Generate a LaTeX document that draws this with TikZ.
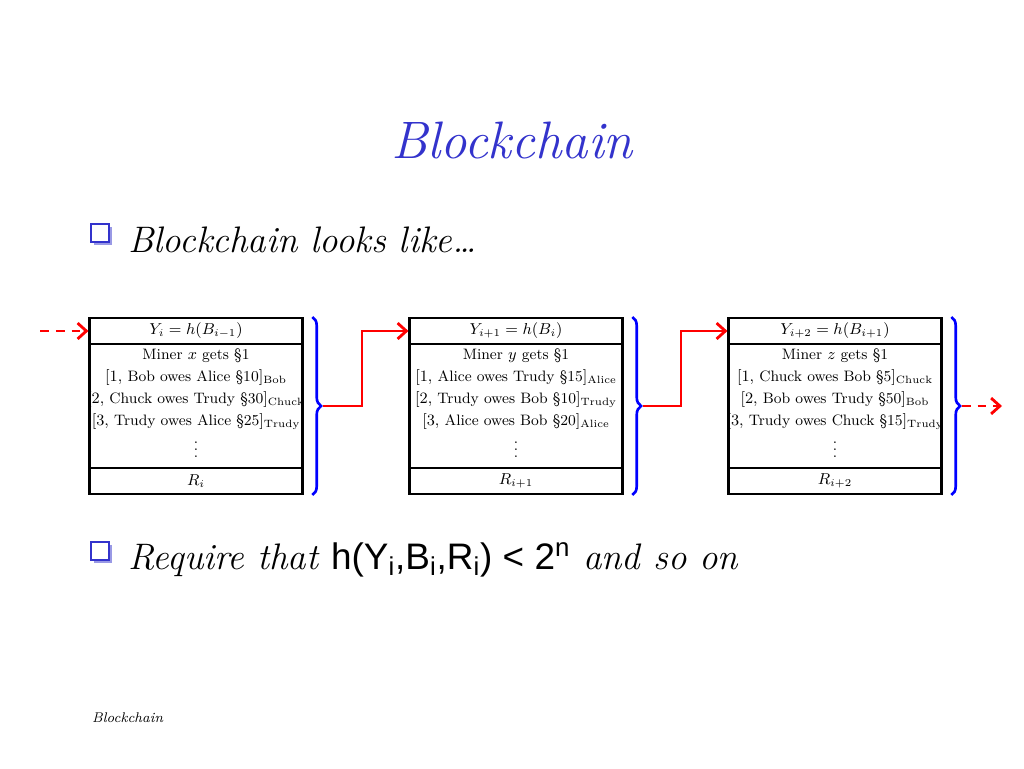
\documentclass[tikz,border=0pt]{standalone}
\usepackage{fontspec}
\newfontfamily\arialfont{Liberation Sans}
\usetikzlibrary{positioning,calc,shadows,decorations.pathreplacing,arrows.meta}
\definecolor{titleblue}{RGB}{51,51,204}
\tikzset{
  cell/.style={draw,line width=1.2pt,minimum width=4.26cm,inner sep=0pt,font=\small,align=center},
  rows/.style={anchor=north,inner sep=0pt,align=center,font=\fontsize{8.6}{12.6}\selectfont},
  brace/.style={draw=blue,line width=1.5pt,decorate,decoration={brace,amplitude=5pt}},
  link/.style={red,line width=1.6pt,-{Straight Barb[length=5pt,width=9pt]}},
  dlink/.style={link,dashed,dash pattern=on 5pt off 4pt},
  bullet/.style={draw=titleblue,fill=white,line width=0.8pt,minimum size=0.36cm,inner sep=0pt,
    drop shadow={shadow xshift=1.5pt,shadow yshift=-1.5pt,fill=titleblue}}
}
\begin{document}
\begin{tikzpicture}[x=0.02cm,y=-0.02cm]
\useasboundingbox (0,0) rectangle (1024,768);
% Title and bullets
\node (title) at (512,140) {\fontsize{30}{34}\selectfont\itshape\color{titleblue}Blockchain};
\node[bullet] (b1) at (100,233) {};
\node[anchor=west] (t1) at (122,240) {\fontsize{21}{24}\selectfont\itshape Blockchain looks like\dots};
\node[bullet] (b2) at (100,551) {};
\node[anchor=west] (t2) at (122,560) {\fontsize{21}{24}\selectfont\itshape Require that
  {\upshape\arialfont h(Y\textsubscript{i},B\textsubscript{i},R\textsubscript{i}) < 2\textsuperscript{n}} and so on};
% Blocks
\node[cell,minimum height=0.52cm] (h1) at (196,331) {$Y_i = h(B_{i-1})$};
\node[cell,minimum height=2.48cm,anchor=north,yshift=1.2pt] (m1) at (h1.south) {};
\node[rows] (l1) at ([yshift=-3pt]m1.north) {Miner $x$ gets \S1\\
  $[1,$ Bob owes Alice \S10$]_{\mathrm{Bob}}$\\
  $[2,$ Chuck owes Trudy \S30$]_{\mathrm{Chuck}}$\\
  $[3,$ Trudy owes Alice \S25$]_{\mathrm{Trudy}}$\\ $\vdots$};
\node[cell,minimum height=0.52cm,anchor=north,yshift=1.2pt] (r1) at (m1.south) {$R_i$};
\node[cell,minimum height=0.52cm] (h2) at (516,331) {$Y_{i+1} = h(B_i)$};
\node[cell,minimum height=2.48cm,anchor=north,yshift=1.2pt] (m2) at (h2.south) {};
\node[rows] (l2) at ([yshift=-3pt]m2.north) {Miner $y$ gets \S1\\
  $[1,$ Alice owes Trudy \S15$]_{\mathrm{Alice}}$\\
  $[2,$ Trudy owes Bob \S10$]_{\mathrm{Trudy}}$\\
  $[3,$ Alice owes Bob \S20$]_{\mathrm{Alice}}$\\ $\vdots$};
\node[cell,minimum height=0.52cm,anchor=north,yshift=1.2pt] (r2) at (m2.south) {$R_{i+1}$};
\node[cell,minimum height=0.52cm] (h3) at (835,331) {$Y_{i+2} = h(B_{i+1})$};
\node[cell,minimum height=2.48cm,anchor=north,yshift=1.2pt] (m3) at (h3.south) {};
\node[rows] (l3) at ([yshift=-3pt]m3.north) {Miner $z$ gets \S1\\
  $[1,$ Chuck owes Bob \S5$]_{\mathrm{Chuck}}$\\
  $[2,$ Bob owes Trudy \S50$]_{\mathrm{Bob}}$\\
  $[3,$ Trudy owes Chuck \S15$]_{\mathrm{Trudy}}$\\ $\vdots$};
\node[cell,minimum height=0.52cm,anchor=north,yshift=1.2pt] (r3) at (m3.south) {$R_{i+2}$};
% Braces
\foreach \b in {1,2,3}{
  \coordinate (top\b) at ([xshift=5pt]h\b.north east);
  \coordinate (bot\b) at ([xshift=5pt]r\b.south east);
  \draw[brace] (top\b) -- (bot\b);
  \coordinate (tip\b) at ($(top\b)!0.5!(bot\b)+(6pt,0)$);
}
% Links
\coordinate (in) at (40,331);
\coordinate (out) at (1002,406);
\draw[dlink] (in) -- (h1.west);
\draw[link] (tip1) -| (362,331) -- (h2.west);
\draw[link] (tip2) -| (681,331) -- (h3.west);
\draw[dlink] (tip3) -- (tip3 -| out);
% Footer
\node[anchor=west] (foot) at (86,718) {\footnotesize\itshape Blockchain};
\end{tikzpicture}
\end{document}
